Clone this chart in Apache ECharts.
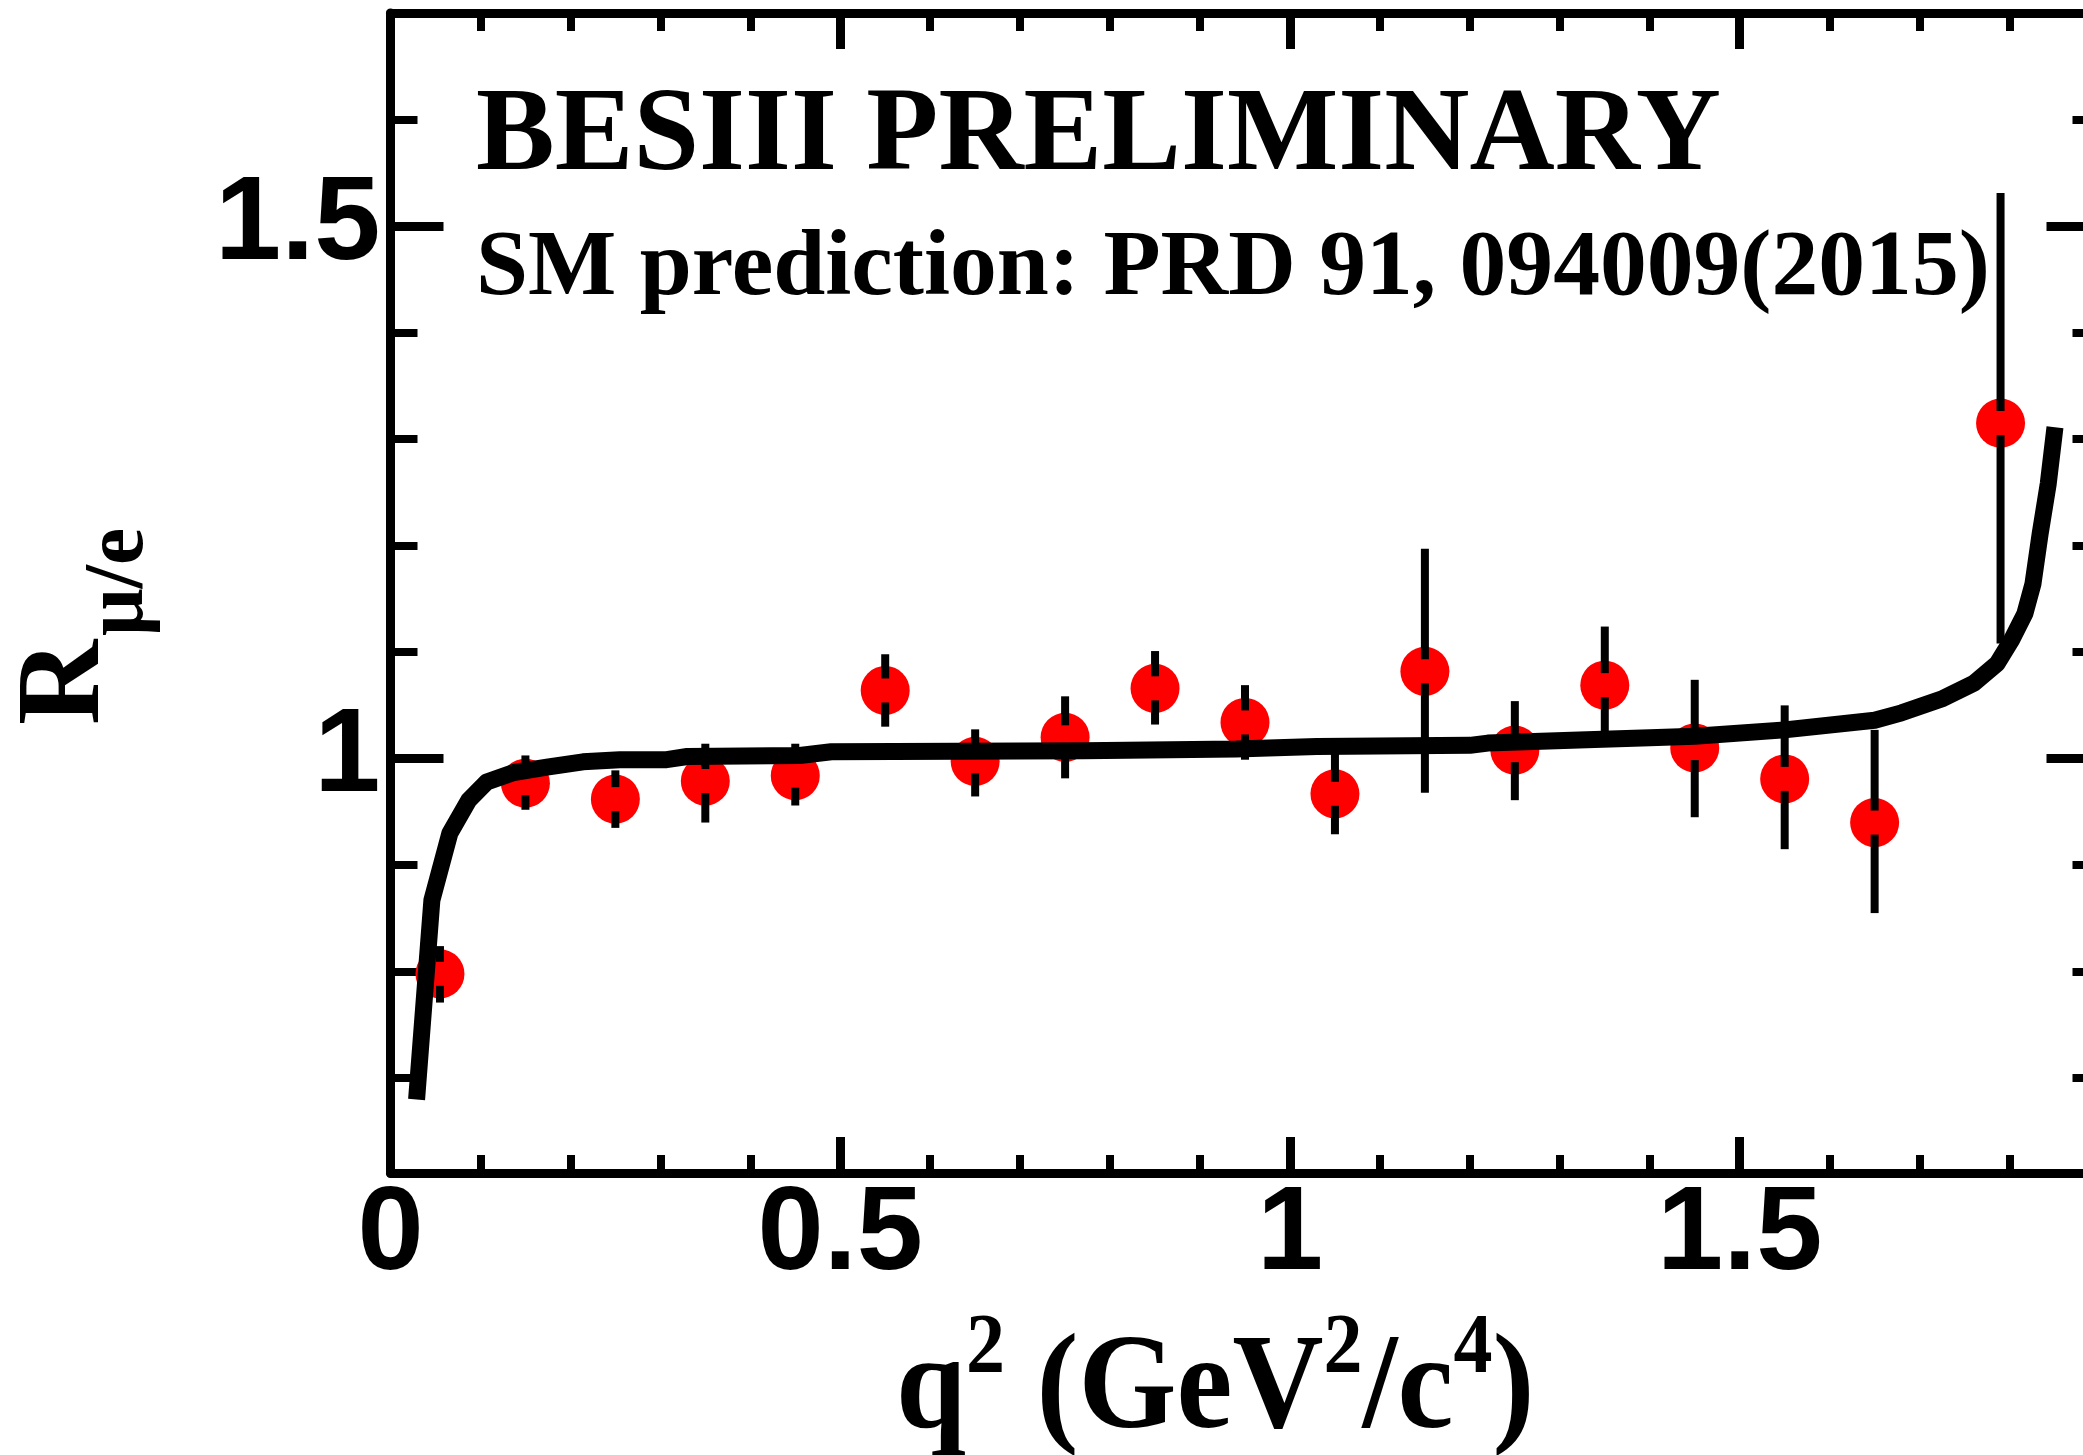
<!DOCTYPE html>
<html>
<head>
<meta charset="utf-8">
<script src="https://cdn.jsdelivr.net/npm/echarts@6/dist/echarts.min.js"></script>
<style>
html,body{margin:0;padding:0;background:#fff;}
#c{width:2083px;height:1455px;}
</style>
</head>
<body>
<div id="c"></div>
<script>
// ---- data ----
const qCenters   = [0.055, 0.15, 0.25, 0.35, 0.45, 0.55, 0.65, 0.75, 0.85, 0.95, 1.05, 1.15, 1.25, 1.35, 1.45, 1.55, 1.65, 1.79];
const ratioValues = [0.798, 0.977, 0.962, 0.979, 0.984, 1.064, 0.9975, 1.020, 1.066, 1.034, 0.967, 1.082, 1.008, 1.069, 1.010, 0.981, 0.940, 1.315];
const errUp   = [0.026, 0.026, 0.027, 0.035, 0.030, 0.034, 0.030, 0.0385, 0.035, 0.035, 0.038, 0.115, 0.046, 0.055, 0.064, 0.069, 0.087, 0.216];
const errDown = [0.027, 0.025, 0.027, 0.039, 0.028, 0.034, 0.033, 0.0385, 0.034, 0.035, 0.038, 0.114, 0.047, 0.055, 0.065, 0.066, 0.085, 0.207];

const smQ = [0.029, 0.046, 0.066, 0.087, 0.107, 0.137, 0.174, 0.214, 0.255, 0.307, 0.33, 0.455, 0.49, 0.77, 0.94, 1.03, 1.2, 1.22, 1.33, 1.40, 1.45, 1.55, 1.65, 1.68, 1.726, 1.76, 1.786, 1.802, 1.817, 1.826, 1.834, 1.843, 1.8505];
const smR = [0.680, 0.867, 0.930, 0.961, 0.978, 0.987, 0.992, 0.997, 0.999, 0.999, 1.002, 1.003, 1.0065, 1.0075, 1.009, 1.0115, 1.0125, 1.0146, 1.0178, 1.0197, 1.021, 1.027, 1.036, 1.043, 1.0565, 1.0706, 1.089, 1.111, 1.136, 1.164, 1.211, 1.258, 1.311];

const xTickValues = [0, 0.5, 1, 1.5];
const xTickLabels = ['0', '0.5', '1', '1.5'];
const yTickValues = [1, 1.5];
const yTickLabels = ['1', '1.5'];

const titleText = 'BESIII PRELIMINARY';
const subtitleText = 'SM prediction: PRD 91, 094009(2015)';

// ---- chart ----
function labelFor(values, labels) {
  return function (v) {
    for (let i = 0; i < values.length; i++) {
      if (Math.abs(v - values[i]) < 1e-6) return labels[i];
    }
    return '';
  };
}

const chart = echarts.init(document.getElementById('c'), null, {renderer: 'canvas', width: 2083, height: 1455});

const tickFont = {fontFamily: 'Liberation Sans', fontWeight: 'bold', fontSize: 119, color: '#000'};

function xAxisDef(pos, showLabel) {
  return {
    type: 'value', position: pos, min: 0, max: 1.9, interval: 0.5,
    axisLine: {show: true, onZero: false, lineStyle: {color: '#000', width: 9}},
    axisTick: {show: true, inside: true, length: 36, lineStyle: {color: '#000', width: 9}},
    minorTick: {show: true, splitNumber: 5, length: 18, lineStyle: {color: '#000', width: 8}},
    splitLine: {show: false}, minorSplitLine: {show: false},
    axisLabel: Object.assign({show: showLabel, margin: 4, formatter: labelFor(xTickValues, xTickLabels)}, tickFont)
  };
}
function yAxisDef(pos, showLabel) {
  return {
    type: 'value', position: pos, min: 0.611, max: 1.70, minInterval: 0.5, maxInterval: 0.5,
    axisLine: {show: true, onZero: false, lineStyle: {color: '#000', width: 9}},
    axisTick: {show: true, inside: true, length: 53, lineStyle: {color: '#000', width: 9}},
    minorTick: {show: true, splitNumber: 5, length: 27, lineStyle: {color: '#000', width: 8}},
    splitLine: {show: false}, minorSplitLine: {show: false},
    axisLabel: Object.assign({show: showLabel, margin: 10, formatter: labelFor(yTickValues, yTickLabels)}, tickFont)
  };
}

const pointData = qCenters.map((q, i) => [q, ratioValues[i]]);
const errData = qCenters.map((q, i) => [q, ratioValues[i], errUp[i], errDown[i]]);
const curveData = smQ.map((q, i) => [q, smR[i]]);

const option = {
  animation: false,
  backgroundColor: '#fff',
  grid: {left: 390.5, top: 13, width: 1709, height: 1160, containLabel: false, outerBoundsMode: 'none'},
  xAxis: [xAxisDef('bottom', true), xAxisDef('top', false)],
  yAxis: [yAxisDef('left', true), yAxisDef('right', false)],
  series: [
    {
      type: 'scatter', xAxisIndex: 0, yAxisIndex: 0, data: pointData,
      symbol: 'circle', symbolSize: 49,
      itemStyle: {color: '#ff0000', opacity: 1}, z: 2, silent: true
    },
    {
      type: 'custom', xAxisIndex: 0, yAxisIndex: 0, data: errData, z: 3, silent: true,
      encode: {x: 0, y: 1},
      renderItem: function (params, api) {
        const x = api.value(0), y = api.value(1), up = api.value(2), dn = api.value(3);
        const c = api.coord([x, y]);
        const t = api.coord([x, y + up]);
        const b = api.coord([x, y - dn]);
        const gap = 12;
        const st = {stroke: '#000', lineWidth: 8};
        return {type: 'group', children: [
          {type: 'line', shape: {x1: c[0], y1: t[1], x2: c[0], y2: c[1] - gap}, style: st},
          {type: 'line', shape: {x1: c[0], y1: c[1] + gap, x2: c[0], y2: b[1]}, style: st}
        ]};
      }
    },
    {
      type: 'line', xAxisIndex: 0, yAxisIndex: 0, data: curveData,
      showSymbol: false, symbol: 'none', smooth: false, z: 4, silent: true,
      lineStyle: {color: '#000', width: 17, join: 'round', cap: 'butt'}
    }
  ],
  graphic: [
    {type: 'text', x: 476, y: 139, silent: true, style: {text: titleText, font: 'bold 118px "Liberation Serif"', fill: '#000', textAlign: 'left', verticalAlign: 'middle', textVerticalAlign: 'middle'}},
    {type: 'text', x: 476, y: 269.4, silent: true, style: {text: subtitleText, font: 'bold 93.6px "Liberation Serif"', fill: '#000', textAlign: 'left', verticalAlign: 'middle', textVerticalAlign: 'middle'}},
    {type: 'text', x: 68, y: 725, rotation: Math.PI / 2, silent: true, style: {text: 'R', font: 'bold 118px "Liberation Serif"', fill: '#000', textAlign: 'left', verticalAlign: 'middle', textVerticalAlign: 'middle'}},
    {type: 'text', x: 120, y: 636, rotation: Math.PI / 2, silent: true, style: {text: 'μ/e', font: 'bold 84px "Liberation Serif"', fill: '#000', textAlign: 'left', verticalAlign: 'middle', textVerticalAlign: 'middle'}},
    {type: 'text', x: 896, y: 1308.5, scaleY: 1.08, silent: true, style: {
      text: '{m|q}{s|2}{m| (GeV}{s|2}{m|/c}{s|4}{m|)}',
      textAlign: 'left', verticalAlign: 'top', textVerticalAlign: 'top', fill: '#000',
      rich: {
        m: {fontFamily: 'Liberation Serif', fontWeight: 'bold', fontSize: 126, lineHeight: 140, verticalAlign: 'bottom', color: '#000'},
        s: {fontFamily: 'Liberation Serif', fontWeight: 'bold', fontSize: 78, lineHeight: 74, verticalAlign: 'top', color: '#000'}
      }
    }}
  ]
};
chart.setOption(option);
</script>
</body>
</html>
